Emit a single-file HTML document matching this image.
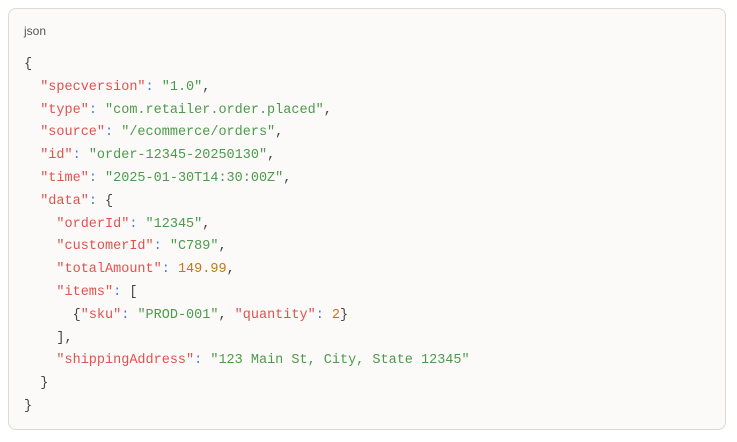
<!DOCTYPE html>
<html><head><style>
html,body{margin:0;padding:0;background:#fff;width:737px;height:442px;overflow:hidden}
.box{position:absolute;left:8px;top:8px;width:718px;height:422px;border:1px solid #dcdad5;border-radius:8px;background:#fbfaf8;box-sizing:border-box}
.lang{position:absolute;left:15px;top:15px;font:12px "Liberation Sans",sans-serif;color:#555}
pre{position:absolute;left:15px;top:45px;margin:0;font:13.5px/22.8px "Liberation Mono",monospace;color:#444}
.k{color:#e0524f}.s{color:#4d9a4d}.n{color:#c07a12}.p{color:#4a7ad8}
</style></head><body>
<div class="box"><div class="lang">json</div>
<pre>{
  <span class="k">"specversion"</span><span class="p">:</span> <span class="s">"1.0"</span>,
  <span class="k">"type"</span><span class="p">:</span> <span class="s">"com.retailer.order.placed"</span>,
  <span class="k">"source"</span><span class="p">:</span> <span class="s">"/ecommerce/orders"</span>,
  <span class="k">"id"</span><span class="p">:</span> <span class="s">"order-12345-20250130"</span>,
  <span class="k">"time"</span><span class="p">:</span> <span class="s">"2025-01-30T14:30:00Z"</span>,
  <span class="k">"data"</span><span class="p">:</span> {
    <span class="k">"orderId"</span><span class="p">:</span> <span class="s">"12345"</span>,
    <span class="k">"customerId"</span><span class="p">:</span> <span class="s">"C789"</span>,
    <span class="k">"totalAmount"</span><span class="p">:</span> <span class="n">149.99</span>,
    <span class="k">"items"</span><span class="p">:</span> [
      {<span class="k">"sku"</span><span class="p">:</span> <span class="s">"PROD-001"</span>, <span class="k">"quantity"</span><span class="p">:</span> <span class="n">2</span>}
    ],
    <span class="k">"shippingAddress"</span><span class="p">:</span> <span class="s">"123 Main St, City, State 12345"</span>
  }
}</pre></div>
</body></html>
